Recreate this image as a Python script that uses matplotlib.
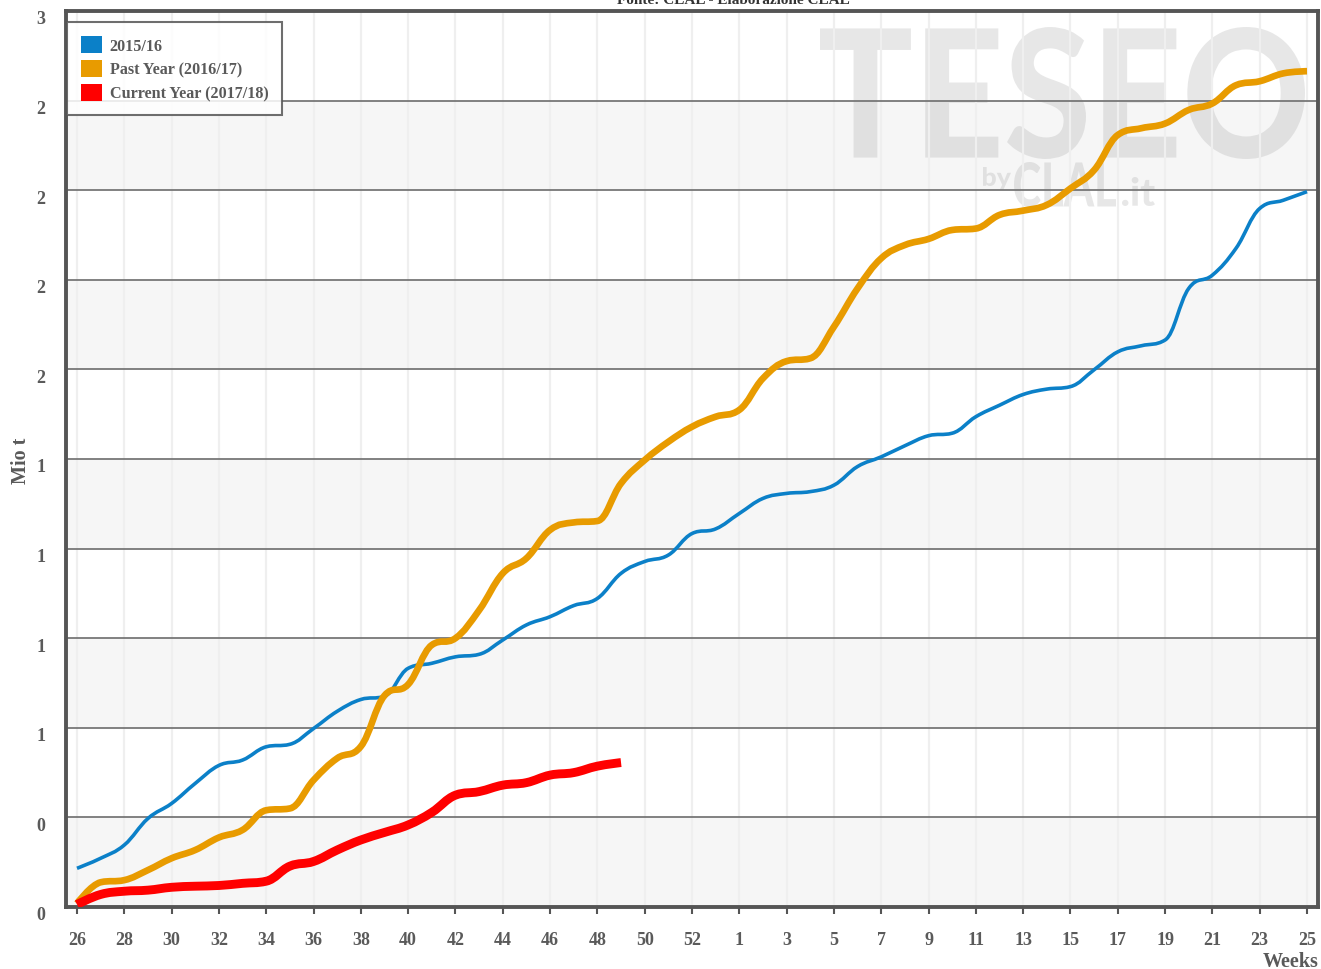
import numpy as np
import matplotlib
matplotlib.use("Agg")
import matplotlib.pyplot as plt
from matplotlib.path import Path
from matplotlib.patches import PathPatch, Patch
from matplotlib.textpath import TextPath
from matplotlib.font_manager import FontProperties
from matplotlib.transforms import Affine2D, ScaledTranslation

# ---------------- data ----------------
weeks = list(range(26, 54)) + list(range(1, 26))

series_2015_16 = [0.108, 0.136, 0.173, 0.247, 0.289, 0.345, 0.395, 0.410, 0.447, 0.454,
                  0.498, 0.546, 0.579, 0.588, 0.666, 0.680, 0.698, 0.705, 0.745, 0.787,
                  0.810, 0.841, 0.861, 0.931, 0.964, 0.982, 1.042, 1.055, 1.098, 1.140,
                  1.154, 1.159, 1.177, 1.229, 1.256, 1.287, 1.315, 1.322, 1.368, 1.400,
                  1.430, 1.445, 1.452, 1.499, 1.549, 1.566, 1.582, 1.726, 1.763, 1.838,
                  1.949, 1.972, 1.996]

past_year_2016_17 = [0.010, 0.069, 0.075, 0.103, 0.136, 0.159, 0.194, 0.215, 0.270, 0.275,
                     0.354, 0.415, 0.448, 0.590, 0.621, 0.731, 0.750, 0.828, 0.931, 0.973,
                     1.052, 1.073, 1.077, 1.182, 1.247, 1.298, 1.340, 1.368, 1.387, 1.475,
                     1.523, 1.531, 1.619, 1.726, 1.810, 1.847, 1.864, 1.889, 1.893, 1.931,
                     1.943, 1.959, 2.005, 2.056, 2.154, 2.173, 2.186, 2.224, 2.242, 2.293,
                     2.304, 2.326, 2.332]

current_year_2017_18 = [0.007, 0.035, 0.044, 0.047, 0.055, 0.058, 0.060, 0.066, 0.072, 0.114,
                        0.127, 0.159, 0.187, 0.208, 0.229, 0.264, 0.312, 0.322, 0.340, 0.347,
                        0.368, 0.375, 0.393, 0.403]

series_labels = ["2015/16", "Past Year (2016/17)", "Current Year (2017/18)"]
series_colors = ["#0b80c8", "#e89b00", "#ff0000"]
series_widths = [2.6, 4.8, 6.4]

y_ticks = [0, 0.25, 0.5, 0.75, 1.0, 1.25, 1.5, 1.75, 2.0, 2.25, 2.5]
y_tick_labels = ["0", "0", "1", "1", "1", "1", "2", "2", "2", "2", "3"]

W, H = 1321, 970
TXT = "#5a5a5a"
SERIF = "Liberation Serif"


def spline_path(xs, ys):
    """Highcharts-like spline drawn as cubic Bezier segments through the data points."""
    n = len(xs)
    lc = [None] * n
    rc = [None] * n
    for i in range(n):
        x, y = xs[i], ys[i]
        if i == 0 or i == n - 1:
            lc[i] = (x, y)
            rc[i] = (x, y)
            continue
        px, py = xs[i - 1], ys[i - 1]
        nx, ny = xs[i + 1], ys[i + 1]
        lcx, lcy = (1.5 * x + px) / 2.5, (1.5 * y + py) / 2.5
        rcx, rcy = (1.5 * x + nx) / 2.5, (1.5 * y + ny) / 2.5
        if rcx != lcx:
            corr = ((rcy - lcy) * (rcx - x)) / (rcx - lcx) + y - rcy
            lcy += corr
            rcy += corr
        if lcy > max(py, y):
            lcy = max(py, y); rcy = 2 * y - lcy
        elif lcy < min(py, y):
            lcy = min(py, y); rcy = 2 * y - lcy
        if rcy > max(y, ny):
            rcy = max(y, ny); lcy = 2 * y - rcy
        elif rcy < min(y, ny):
            rcy = min(y, ny); lcy = 2 * y - rcy
        lc[i] = (lcx, lcy)
        rc[i] = (rcx, rcy)
    verts = [(xs[0], ys[0])]
    codes = [Path.MOVETO]
    for i in range(1, n):
        verts += [rc[i - 1], lc[i], (xs[i], ys[i])]
        codes += [Path.CURVE4] * 3
    return Path(verts, codes)


def fitted_text(ax, s, fp, x0, top, x1, bottom, color, alpha, zorder):
    tp = TextPath((0, 0), s, size=100, prop=fp)
    ext = tp.get_extents()
    sx = (x1 - x0) / ext.width
    sy = (bottom - top) / ext.height
    tr = Affine2D().translate(-ext.x0, -ext.y0).scale(sx, sy).translate(x0, H - bottom)
    p = PathPatch(tp, transform=tr, facecolor=color, edgecolor="none", alpha=alpha, zorder=zorder)
    ax.add_artist(p)


fig = plt.figure(figsize=(W / 100, H / 100), dpi=100)
ax = fig.add_axes([66 / W, 62 / H, 1252 / W, 896 / H])
ax.set_facecolor("white")

# alternating bands
for k in range(0, 10, 2):
    ax.axhspan(y_ticks[k], y_ticks[k + 1], color="#f6f6f6", zorder=0.1, lw=0)

# horizontal grid lines
for v in y_ticks[1:-1]:
    ax.axhline(v, color="#777777", lw=1.3, zorder=1)

# watermark
wm = FontProperties(family="Lato", weight="black")
fitted_text(ax, "TESEO", wm, 820, 28, 1305, 160, "#8a8a8a", 0.2, 0.3)
fitted_text(ax, "by", wm, 983, 168, 1011, 191, "#8a8a8a", 0.2, 0.3)
fitted_text(ax, "CLAL", wm, 1014, 163, 1116, 208, "#8a8a8a", 0.2, 0.3)
fitted_text(ax, ".it", wm, 1122, 178, 1155, 207, "#8a8a8a", 0.2, 0.3)

# series
x_all = list(range(len(weeks)))
for vals, col, lw, z in zip([series_2015_16, past_year_2016_17, current_year_2017_18],
                            series_colors, series_widths, [3, 4, 5]):
    xs = x_all[:len(vals)]
    path = spline_path(xs, vals)
    ax.add_patch(PathPatch(path, fill=False, edgecolor=col, lw=lw, capstyle="butt",
                           joinstyle="round", zorder=z))

ax.set_xlim(-0.465, len(weeks) - 1 + 0.465)
ax.set_ylim(0, 2.5)

# x axis
xt = list(range(0, len(weeks), 2))
ax.set_xticks(xt)
ax.set_xticklabels([str(weeks[i]) for i in xt])
ax.grid(axis="x", color="#efefef", lw=1.6)
ax.set_axisbelow(True)
ax.tick_params(axis="x", length=5, width=1.5, color="#555555", pad=12, labelcolor=TXT)

# y axis
ax.set_yticks(y_ticks)
ax.set_yticklabels(y_tick_labels)
ax.tick_params(axis="y", length=0, pad=15, labelcolor=TXT)
off = ScaledTranslation(0, -6 / 100, fig.dpi_scale_trans)
for lab in ax.get_yticklabels():
    lab.set_transform(lab.get_transform() + off)

for lab in ax.get_xticklabels() + ax.get_yticklabels():
    lab.set_fontfamily(SERIF)
    lab.set_fontweight("bold")
    lab.set_fontsize(13)

for sp in ax.spines.values():
    sp.set_color("#555555")
    sp.set_linewidth(2.8)

# labels
fig.text(1319 / W, 1 - 962 / H, "Weeks", ha="right", va="center", family=SERIF,
         weight="bold", fontsize=14.5, color=TXT)
fig.text(21 / W, 1 - 461 / H, "Mio t", ha="center", va="center", rotation=90,
         family=SERIF, weight="bold", fontsize=14.5, color=TXT)
fig.text(733 / W, 1 - 3.5 / H, "Fonte: CLAL - Elaborazione CLAL", ha="center",
         va="baseline", family=SERIF, weight="bold", fontsize=11, color="#333333")

# legend
handles = [Patch(facecolor=c, edgecolor="none") for c in series_colors]
leg = ax.legend(handles, series_labels, loc="upper left",
                bbox_to_anchor=(67 / W, 1 - 23 / H), bbox_transform=fig.transFigure,
                prop=FontProperties(family=SERIF, weight="bold", size=11.6),
                labelcolor=TXT, frameon=True, fancybox=False, edgecolor="#555555",
                framealpha=0.85, borderpad=0.85, labelspacing=0.38, handlelength=1.3,
                handleheight=1.25, handletextpad=0.5, borderaxespad=0)
leg.get_frame().set_linewidth(1.5)
leg.set_zorder(10)

fig.savefig("out.png", dpi=100)
